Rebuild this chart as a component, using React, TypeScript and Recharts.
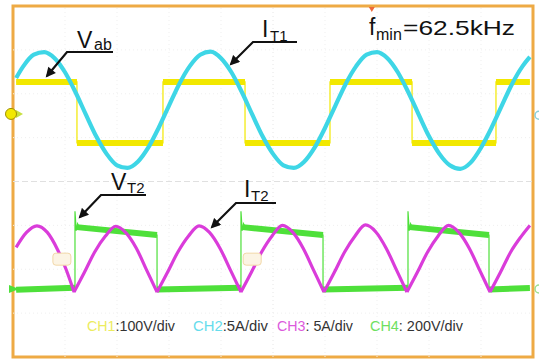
import React from 'react';
import { ComposedChart, Line, XAxis, YAxis, ReferenceLine, ReferenceArea, ReferenceDot } from 'recharts';

// Time axis in µs (5 µs/div, 10 div); vertical axis in screen divisions (8 div)
const timeGrid = [5, 10, 15, 20, 25, 30, 35, 40, 45];
const divGrid = [-3, -2, -1, 0, 1, 2, 3];

// CH1: Vab square wave (divisions)
const vabEdges = [0.3, 6.15, 14.42, 22.31, 30.48, 38.37, 46.44, 49.7];
const vabLevels = [2.27, 0.88, 2.27, 0.88, 2.27, 0.88, 2.27];

// CH2: IT1 resonant current (divisions)
const it1Time = [0.3, 1, 2, 3, 4, 5, 6, 7, 8, 9, 10, 11, 12, 13, 14, 15, 16, 17, 18, 19, 20, 21, 22, 23, 24, 25, 26, 27, 28, 29, 30, 31, 32, 33, 34, 35, 36, 37, 38, 39, 40, 41, 42, 43, 44, 45, 46, 47, 48, 49, 49.7];
const it1Values = [2.36, 2.63, 2.89, 2.95, 2.81, 2.49, 2.04, 1.53, 1.03, 0.63, 0.37, 0.31, 0.45, 0.77, 1.22, 1.73, 2.23, 2.63, 2.89, 2.96, 2.81, 2.49, 2.04, 1.53, 1.03, 0.63, 0.37, 0.31, 0.45, 0.77, 1.22, 1.73, 2.23, 2.63, 2.89, 2.95, 2.81, 2.49, 2.04, 1.53, 1.03, 0.63, 0.37, 0.29, 0.43, 0.77, 1.22, 1.73, 2.23, 2.63, 2.84];

// CH3: IT2 rectified current arcs (null = break at each cusp)
const it2Time = [
  0.3, 1.3, 2.3, 3.3, 4.3, 5.1, 5.87, 5.87,
  5.87, 6.87, 7.87, 8.87, 9.87, 10.86, 11.86, 12.85, 13.85, 13.85,
  13.85, 14.86, 15.87, 16.88, 17.89, 18.89, 19.9, 20.91, 21.92, 21.92,
  21.92, 22.92, 23.92, 24.91, 25.91, 26.91, 27.9, 28.9, 29.9, 29.9,
  29.9, 30.9, 31.9, 32.89, 33.89, 34.89, 35.88, 36.88, 37.88, 37.88,
  37.88, 38.88, 39.88, 40.88, 41.88, 42.87, 43.87, 44.87, 45.87, 45.87,
  45.87, 46.87, 47.87, 48.87, 49.7,
];
const it2Values = [
  -1.5, -1.16, -1.01, -1.16, -1.56, -2.0, -2.52, null,
  -2.52, -2.07, -1.6, -1.25, -1.02, -1.17, -1.52, -2.02, -2.52, null,
  -2.52, -2.07, -1.6, -1.24, -1.01, -1.16, -1.52, -2.02, -2.52, null,
  -2.52, -2.07, -1.6, -1.24, -1.0, -1.16, -1.52, -2.02, -2.52, null,
  -2.52, -2.07, -1.6, -1.24, -0.99, -1.15, -1.52, -2.02, -2.52, null,
  -2.52, -2.07, -1.6, -1.24, -1.0, -1.16, -1.52, -2.02, -2.52, null,
  -2.52, -2.07, -1.6, -1.25, -1.0,
];

// CH4: VT2 switch voltage (divisions)
const vt2Edges = [0.3, 5.96, 13.85, 21.92, 29.81, 37.98, 45.77, 49.7];
const vt2Start = [-2.47, -1.04, -2.46, -1.04, -2.46, -1.04, -2.46];
const vt2End = [-2.42, -1.22, -2.42, -1.22, -2.42, -1.22, -2.43];
const vt2RingDt = [0, 0.12, 0.25];
const vt2RingValues = [-0.68, -1.12, -0.96];

// ---- tables built for the library ----
type P = { t: number; v: number | null };
const vabThin: P[] = [];
const vabThick: P[] = [];
vabLevels.forEach((lv, i) => {
  vabThin.push({ t: vabEdges[i], v: lv }, { t: vabEdges[i + 1], v: lv });
  vabThick.push({ t: vabEdges[i], v: lv }, { t: vabEdges[i + 1], v: lv }, { t: vabEdges[i + 1], v: null });
});

const it1Data: P[] = it1Time.map((t, i) => ({ t, v: it1Values[i] }));
const it2Data: P[] = it2Time.map((t, i) => ({ t, v: it2Values[i] }));

const vt2Thin: P[] = [];
const vt2Thick: P[] = [];
vt2Start.forEach((s, i) => {
  const t0 = vt2Edges[i];
  const t1 = vt2Edges[i + 1];
  const high = s > -2;
  if (high) {
    vt2RingDt.forEach((dt, k) => vt2Thin.push({ t: t0 + dt, v: vt2RingValues[k] }));
  } else {
    vt2Thin.push({ t: t0, v: s });
  }
  vt2Thin.push({ t: high ? t0 + 0.4 : t0, v: s }, { t: t1, v: vt2End[i] });
  vt2Thick.push({ t: high ? t0 + 0.15 : t0, v: s }, { t: t1, v: vt2End[i] }, { t: t1, v: null });
});

const YELLOW = '#f2e800';
const CYAN = '#3ed6e6';
const MAGENTA = '#da3cda';
const GREEN = '#4ee03a';
const ORANGE = '#eeaa44';
const FONT = '"Liberation Sans", Arial, sans-serif';

const common = { dataKey: 'v', dot: false, activeDot: false, isAnimationActive: false, connectNulls: false } as const;

export default function App() {
  return (
    <div style={{ position: 'absolute', left: 0, top: 0, width: 539, height: 359, background: '#fff' }}>
      <ComposedChart width={539} height={359} margin={{ top: 6, right: 6, bottom: 2, left: 13 }}>
        <XAxis hide type="number" dataKey="t" domain={[0, 50]} allowDataOverflow />
        <YAxis hide type="number" domain={[-4, 4]} allowDataOverflow />
        {timeGrid.map((x) => (
          <ReferenceLine key={'vx' + x} x={x} stroke={x === 25 ? '#e6e6e6' : '#efefef'} strokeDasharray="1 3" />
        ))}
        {divGrid.map((y) => (
          <ReferenceLine key={'hy' + y} y={y} stroke={y === 0 ? '#e0e0e0' : '#efefef'} strokeDasharray={y === 0 ? '6 3' : '1 3'} />
        ))}
        <ReferenceArea x1={0} x2={50} y1={-4} y2={4} fill="none" stroke={ORANGE} strokeWidth={3} ifOverflow="visible" />

        <Line {...common} data={vabThin} type="linear" stroke={YELLOW} strokeWidth={1.2} />
        <Line {...common} data={vabThick} type="linear" stroke={YELLOW} strokeWidth={6} />
        <Line {...common} data={vt2Thin} type="linear" stroke={GREEN} strokeWidth={1.2} />
        <Line {...common} data={vt2Thick} type="linear" stroke={GREEN} strokeWidth={6} />
        <Line {...common} data={it1Data} type="monotone" stroke={CYAN} strokeWidth={4.2} />
        <Line {...common} data={it2Data} type="monotone" stroke={MAGENTA} strokeWidth={3.2} />

        <ReferenceDot
          x={0}
          y={1.54}
          ifOverflow="visible"
          shape={(p: any) => (
            <g>
              <path d={`M${p.cx + 3},${p.cy - 4} L${p.cx + 10},${p.cy} L${p.cx + 3},${p.cy + 4} Z`} fill="#c8e040" />
              <circle cx={p.cx - 2} cy={p.cy} r={5.5} fill={YELLOW} stroke="#a09000" strokeWidth={1} />
            </g>
          )}
        />
        <ReferenceDot
          x={0}
          y={-2.45}
          ifOverflow="visible"
          shape={(p: any) => (
            <g>
              <path d={`M${p.cx - 4},${p.cy - 4} L${p.cx + 6},${p.cy} L${p.cx - 4},${p.cy + 4} Z`} fill={GREEN} />
            </g>
          )}
        />
        <ReferenceDot
          x={50}
          y={1.51}
          ifOverflow="visible"
          shape={(p: any) => <circle cx={p.cx + 6} cy={p.cy} r={4} fill="none" stroke="#88d0d8" strokeWidth={1.5} />}
        />
        <ReferenceDot
          x={50}
          y={-2.45}
          ifOverflow="visible"
          shape={(p: any) => <circle cx={p.cx + 6} cy={p.cy} r={4} fill="none" stroke="#9ce090" strokeWidth={1.5} />}
        />
        <ReferenceDot
          x={34.5}
          y={4}
          ifOverflow="visible"
          shape={(p: any) => <path d={`M${p.cx - 3},${p.cy + 1} L${p.cx + 3},${p.cy + 1} L${p.cx},${p.cy + 6} Z`} fill="#ee6a3a" />}
        />
        {[4.7, 23].map((x) => (
          <ReferenceDot
            key={'m' + x}
            x={x}
            y={-1.77}
            ifOverflow="visible"
            shape={(p: any) => (
              <rect x={p.cx - 9} y={p.cy - 6} width={18} height={12} rx={3} fill="#fcf4e4" stroke="#f2d8a8" strokeWidth={1} />
            )}
          />
        ))}
      </ComposedChart>

      <svg width={539} height={359} style={{ position: 'absolute', left: 0, top: 0, pointerEvents: 'none' }} fontFamily={FONT}>
        <defs>
          <marker id="ah" viewBox="0 0 10 10" refX="8" refY="5" markerWidth="5" markerHeight="4.5" orient="auto">
            <path d="M0,0 L10,5 L0,10 Z" fill="#111" />
          </marker>
        </defs>
        <g fill="none" stroke="#111" strokeWidth={2.2} markerEnd="url(#ah)">
          <path d="M113,52 H67 L47,76" />
          <path d="M297,42 H253 L231,64" />
          <path d="M146,195 H101 L80,217" />
          <path d="M276,203 H236 L212,227" />
        </g>

        <g fill="#111">
          <text x={77} y={48} fontSize={23}>V</text>
          <text x={94} y={50} fontSize={16}>ab</text>

          <text x={262} y={37} fontSize={23}>I</text>
          <text x={270} y={41} fontSize={15}>T1</text>

          <text x={369} y={35} fontSize={23}>f</text>
          <text x={376} y={40} fontSize={16}>min</text>
          <text x={403} y={35} fontSize={21} textLength={112} lengthAdjust="spacingAndGlyphs">=62.5kHz</text>

          <text x={111} y={190} fontSize={23}>V</text>
          <text x={127} y={193} fontSize={15}>T2</text>

          <text x={244} y={197} fontSize={23}>I</text>
          <text x={251} y={201} fontSize={15}>T2</text>
        </g>

        <g fontSize={14}>
          <text x={87} y={331} textLength={88} lengthAdjust="spacingAndGlyphs">
            <tspan fill="#ecec60">CH1</tspan>
            <tspan fill="#333">:100V/div</tspan>
          </text>
          <text x={193} y={331} textLength={75} lengthAdjust="spacingAndGlyphs">
            <tspan fill="#66dcec">CH2</tspan>
            <tspan fill="#333">:5A/div</tspan>
          </text>
          <text x={277} y={331} textLength={76} lengthAdjust="spacingAndGlyphs">
            <tspan fill="#dc5adc">CH3</tspan>
            <tspan fill="#333">: 5A/div</tspan>
          </text>
          <text x={370} y={331} textLength={93} lengthAdjust="spacingAndGlyphs">
            <tspan fill="#6ee060">CH4</tspan>
            <tspan fill="#333">: 200V/div</tspan>
          </text>
        </g>
      </svg>
    </div>
  );
}
